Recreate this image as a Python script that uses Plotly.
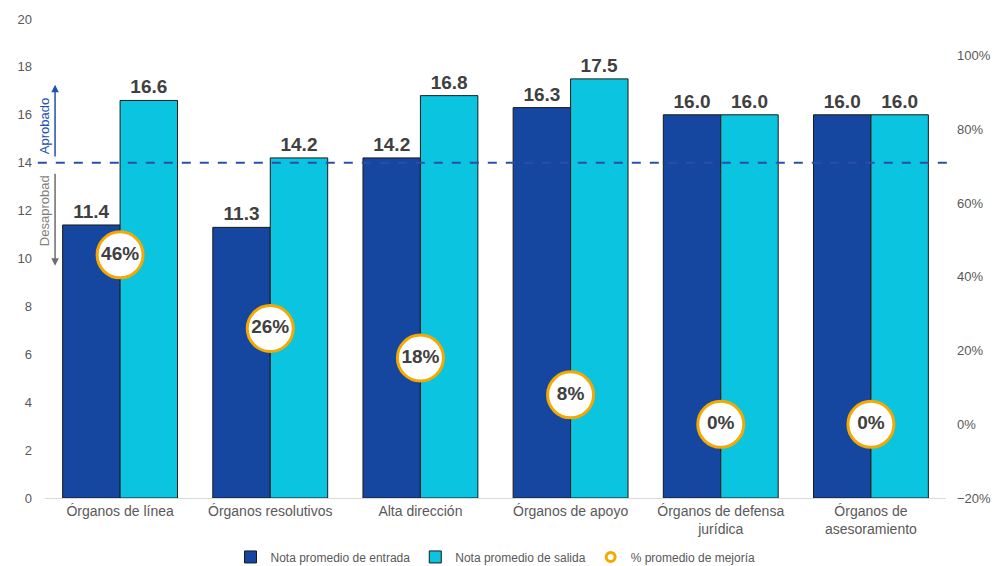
import plotly.graph_objects as go

categories = ["Órganos de línea", "Órganos resolutivos", "Alta dirección", "Órganos de apoyo",
              "Órganos de defensa<br>jurídica", "Órganos de<br>asesoramiento"]
nota_entrada = [11.4, 11.3, 14.2, 16.3, 16.0, 16.0]
nota_salida = [16.6, 14.2, 16.8, 17.5, 16.0, 16.0]
mejoria = [0.46, 0.26, 0.18, 0.08, 0.0, 0.0]
left_ticks = list(range(0, 21, 2))
right_ticks = [-0.2, 0.0, 0.2, 0.4, 0.6, 0.8, 1.0]
umbral = 14

FONT = "Arial, Liberation Sans, sans-serif"
GRAY = "#595959"
DARK = "#404040"

fig = go.Figure()
fig.add_trace(go.Bar(
    x=categories, y=nota_entrada, name="Nota promedio de entrada",
    marker=dict(color="#1546A0", line=dict(color="#1a1a1a", width=1)),
    text=[f"{v:.1f}" for v in nota_entrada], textposition="outside",
    textfont=dict(family=FONT, size=19, color=DARK, weight="bold"), cliponaxis=False,
))
fig.add_trace(go.Bar(
    x=categories, y=nota_salida, name="Nota promedio de salida",
    marker=dict(color="#0BC5E0", line=dict(color="#1a1a1a", width=1)),
    text=[f"{v:.1f}" for v in nota_salida], textposition="outside",
    textfont=dict(family=FONT, size=19, color=DARK, weight="bold"), cliponaxis=False,
))
fig.add_trace(go.Scatter(
    x=categories, y=mejoria, yaxis="y2", mode="markers+text", showlegend=False,
    marker=dict(size=46, color="white", line=dict(color="#F5A800", width=3)),
    text=[f"{v:.0%}" for v in mejoria], textposition="middle center",
    textfont=dict(family=FONT, size=19, color=DARK, weight="bold"),
    name="% promedio de mejoría", cliponaxis=False,
))
fig.add_trace(go.Scatter(
    x=[None], y=[None], yaxis="y2", mode="markers", name="% promedio de mejoría",
    marker=dict(size=9, color="white", line=dict(color="#F5A800", width=3)),
))

fig.add_shape(type="line", xref="paper", yref="y", x0=-0.008, x1=1.002, y0=umbral, y1=umbral,
              line=dict(color="#2B4FA8", width=2, dash="dash"))

ax_x = -0.433
fig.add_annotation(xref="x", yref="y", axref="x", ayref="y", x=ax_x, y=17.25, ax=ax_x, ay=14.2,
                   showarrow=True, arrowhead=2, arrowsize=1, arrowwidth=1.5, arrowcolor="#2050B0", text="")
fig.add_annotation(xref="x", yref="y", axref="x", ayref="y", x=ax_x, y=9.7, ax=ax_x, ay=13.6,
                   showarrow=True, arrowhead=2, arrowsize=1, arrowwidth=1.5, arrowcolor="#6d6d6d", text="")
fig.add_annotation(xref="paper", yref="y", x=-0.001, y=15.53, xanchor="center", yanchor="middle",
                   text="Aprobado", textangle=-90,
                   showarrow=False, font=dict(family=FONT, size=13, color="#2050B0"))
fig.add_annotation(xref="paper", yref="y", x=-0.001, y=11.98, xanchor="center", yanchor="middle",
                   text="Desaprobad", textangle=-90,
                   showarrow=False, font=dict(family=FONT, size=13, color="#7f7f7f"))

fig.update_layout(
    width=995, height=566,
    margin=dict(l=45, r=49, t=19, b=68, autoexpand=False),
    paper_bgcolor="white", plot_bgcolor="white",
    barmode="group", bargap=0.235, bargroupgap=0,
    font=dict(family=FONT, color=GRAY, size=13),
    xaxis=dict(showgrid=False, showline=True, linecolor="#d9d9d9", linewidth=1, automargin=False,
               tickfont=dict(size=14, color=GRAY), ticks="", range=[-0.5, 5.5]),
    yaxis=dict(range=[0, 20], tickvals=left_ticks, showgrid=False, zeroline=False, showline=False,
               automargin=False, tickfont=dict(size=13, color=GRAY), ticks="", ticklabelstandoff=12),
    yaxis2=dict(overlaying="y", side="right", range=[-0.2, 1.1], tickvals=right_ticks,
                tickformat=".0%", showgrid=False, zeroline=False, showline=False, automargin=False,
                tickfont=dict(size=13, color=GRAY), ticks="", ticklabelstandoff=10),
    legend=dict(orientation="h", x=0.5, xanchor="center", yref="container", y=0.016, yanchor="middle",
                font=dict(size=12, color=GRAY), itemwidth=30),
    showlegend=True,
)

fig.write_html("out.html", config={"displayModeBar": False},
               post_script="document.body.style.margin='0';document.body.style.overflow='hidden';")
